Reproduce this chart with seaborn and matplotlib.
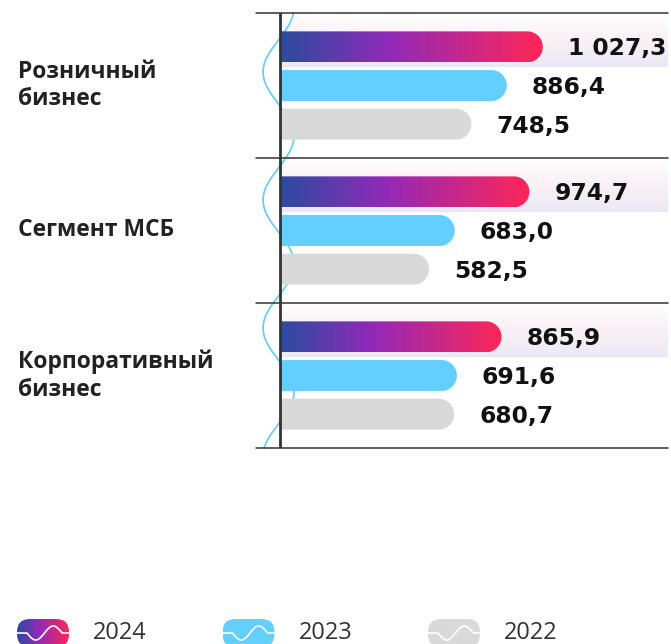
import numpy as np
import pandas as pd
import matplotlib
matplotlib.use("Agg")
import matplotlib.pyplot as plt
import seaborn as sns
from matplotlib.colors import LinearSegmentedColormap
from matplotlib.patches import Polygon, FancyBboxPatch

# ---- data -------------------------------------------------------------
categories = ["Розничный\nбизнес", "Сегмент МСБ", "Корпоративный\nбизнес"]
years = ["2024", "2023", "2022"]
values_2024 = [1027.3, 974.7, 865.9]
values_2023 = [886.4, 683.0, 691.6]
values_2022 = [748.5, 582.5, 680.7]

# ---- style ------------------------------------------------------------
year_colors = {"2024": "#9229B9", "2023": "#62CFFF", "2022": "#D9D9D9"}
grad_2024 = LinearSegmentedColormap.from_list(
    "grad2024", [(0.0, "#2B4C9F"), (0.42, "#9229B9"), (1.0, "#FF2657")])
band_cmap = LinearSegmentedColormap.from_list(
    "band", [(0.0, "#FFFFFF"), (0.45, "#FBF2F6"), (1.0, "#EBE8F5")])
wave_color = "#6ECDF5"
line_color = "#333333"

sns.set_style("white")
plt.rcParams["font.family"] = ["Open Sans", "DejaVu Sans"]

rows = []
for year, vals in zip(years, [values_2024, values_2023, values_2022]):
    for cat, v in zip(categories, vals):
        rows.append({"category": cat, "year": year, "value": v})
df = pd.DataFrame(rows)

W, H = 671, 644
fig = plt.figure(figsize=(W / 100, H / 100), dpi=100)
ax_left, ax_right, ax_top, ax_bottom = 256, 668, 13, 448
ax = fig.add_axes([ax_left / W, (H - ax_bottom) / H,
                   (ax_right - ax_left) / W, (ax_bottom - ax_top) / H])

sns.barplot(data=df, y="category", x="value", hue="year", order=categories,
            hue_order=years, palette=year_colors, orient="h", width=0.8,
            gap=0.2, dodge=True, saturation=1, errorbar=None, legend=False,
            ax=ax)

px_per_unit = 0.2558
zero_px = 280
xmin = -(zero_px - ax_left) / px_per_unit
xmax = (ax_right - zero_px) / px_per_unit
ax.set_xlim(xmin, xmax)
ax.set_ylim(len(categories) - 0.5, -0.5)

px_x = (ax_right - ax_left) / (xmax - xmin)
px_y = (ax_bottom - ax_top) / len(categories)


def fmt(v):
    s = f"{v:,.1f}"
    return s.replace(",", " ").replace(".", ",")


def rounded_bar(x0, w, yc, h):
    """Bar outline with a flat start and a semicircular end (circular on screen)."""
    ry = h / 2
    rx = ry * px_y / px_x
    x1 = x0 + w
    th = np.linspace(-np.pi / 2, np.pi / 2, 60)
    arc = np.column_stack([x1 - rx + rx * np.cos(th), yc + ry * np.sin(th)])
    verts = np.vstack([[x0, yc - ry], arc, [x0, yc + ry]])
    return verts


for container, year in zip(ax.containers, years):
    for bar in container:
        x0, w = bar.get_x(), bar.get_width()
        y0, h = bar.get_y(), bar.get_height()
        yc = y0 + h / 2
        bar.set_visible(False)
        verts = rounded_bar(x0, w, yc, h)
        if year == "2024":
            # shaded band from the group's top edge down to just below the bar
            band_top = round(yc) - 0.5
            band_bot = yc + h / 2 + 5 / px_y
            grad_v = np.linspace(0, 1, 256).reshape(-1, 1)
            ax.imshow(grad_v, cmap=band_cmap, aspect="auto", origin="upper",
                      extent=(0, xmax, band_bot, band_top), zorder=0.5,
                      interpolation="bilinear")
            poly = Polygon(verts, closed=True, facecolor="none",
                           edgecolor="none", zorder=2)
            ax.add_patch(poly)
            grad_h = np.linspace(0, 1, 256).reshape(1, -1)
            im = ax.imshow(grad_h, cmap=grad_2024, aspect="auto",
                           extent=(x0, x0 + w, yc + h / 2, yc - h / 2),
                           zorder=2, interpolation="bilinear")
            im.set_clip_path(poly)
        else:
            ax.add_patch(Polygon(verts, closed=True,
                                 facecolor=year_colors[year],
                                 edgecolor="none", zorder=2))
        ax.annotate(fmt(w), xy=(x0 + w, yc), xytext=(18, -6.1),
                    textcoords="offset points", ha="left", va="baseline",
                    fontsize=16.8, fontweight="bold", color="#111111",
                    family=["DejaVu Sans"], zorder=5)

ax.set_xlim(xmin, xmax)
ax.set_ylim(len(categories) - 0.5, -0.5)

# decorative wave running along the value axis
ypx = np.linspace(ax_top, ax_bottom, 600)
xpx = 278.5 - 15.5 * np.cos(2 * np.pi * (ypx - 72) / 128)
ax.plot((xpx - ax_left) / (ax_right - ax_left),
        (ax_bottom - ypx) / (ax_bottom - ax_top),
        transform=ax.transAxes, color=wave_color, lw=1.3, zorder=1,
        clip_on=False)

# axis and group separators
ax.axvline(0, color=line_color, lw=2.0, zorder=4)
for b in np.arange(-0.5, len(categories), 1.0):
    ax.axhline(b, color=line_color, lw=1.1, zorder=4, clip_on=False)

for s in ax.spines.values():
    s.set_visible(False)
ax.set_xticks([])
ax.set_xlabel("")
ax.set_ylabel("")
ax.set_yticks(range(len(categories)))
ax.set_yticklabels(categories, ha="left", va="center", fontsize=16.5,
                   fontweight="bold", color="#222222",
                   family=["Open Sans", "DejaVu Sans"], linespacing=1.2)
ax.tick_params(axis="y", length=0, pad=(ax_left - 18) * 0.72)
ax.set_facecolor("none")

# legend: pill icons with a small wave, followed by the year
icon_w, icon_h = 52, 28
for i, year in enumerate(years):
    left = 17 + i * 205.5
    iax = fig.add_axes([left / W, (H - 619 - icon_h) / H, icon_w / W, icon_h / H])
    iax.set_xlim(0, icon_w)
    iax.set_ylim(0, icon_h)
    iax.axis("off")
    pill = FancyBboxPatch((0, 0), icon_w, icon_h,
                          boxstyle="round,pad=0,rounding_size=13",
                          facecolor=year_colors[year] if year != "2024" else "none",
                          edgecolor="none")
    iax.add_patch(pill)
    if year == "2024":
        g = iax.imshow(np.linspace(0, 1, 256).reshape(1, -1), cmap=grad_2024,
                       aspect="auto", extent=(0, icon_w, 0, icon_h),
                       interpolation="bilinear")
        g.set_clip_path(pill)
    wx = np.linspace(0, icon_w, 300)
    wy = np.where((wx >= 10) & (wx <= 45),
                  14 - 7 * np.sin(2 * np.pi * (wx - 10) / 35), 14)
    iax.plot(wx, wy, color="white", lw=1.2)
    fig.text((left + 76) / W, (H - 639) / H, year, fontsize=17,
             color="#333333", va="baseline", ha="left",
             family=["Open Sans", "DejaVu Sans"])

fig.savefig("out.png", dpi=100, facecolor="white")
